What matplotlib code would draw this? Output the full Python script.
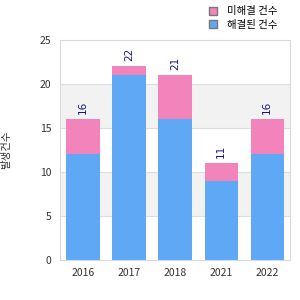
import numpy as np
import matplotlib.pyplot as plt
from matplotlib.patches import Patch

plt.rcParams['font.family'] = ['Noto Sans CJK KR', 'DejaVu Sans']

# Data
years = ['2016', '2017', '2018', '2021', '2022']
base_vals = [12, 21, 16, 9, 12]
top_vals = [4, 1, 5, 2, 4]
totals = [b + t for b, t in zip(base_vals, top_vals)]
series_names = ['미해결 건수', '해결된 건수']
y_label = '발생건수'

blue = '#5fa8f6'
pink = '#f383bb'

fig = plt.figure(figsize=(3, 3), dpi=100)
ax = fig.add_axes([0.2, 0.133, 0.767, 0.734])

x = np.arange(len(years))
ax.set_xlim(-0.5, len(years) - 0.5)
ax.set_ylim(0, 25)

# alternating bands
for lo in (5, 15):
    ax.axhspan(lo, lo + 5, color='#f2f2f2', zorder=0, lw=0)
for yv in (5, 10, 15, 20):
    ax.axhline(yv, color='#dddddd', lw=0.8, zorder=0.5)

ax.bar(x, base_vals, width=0.72, color=blue, zorder=2)
ax.bar(x, top_vals, width=0.72, bottom=base_vals, color=pink, zorder=2)

for xi, t in zip(x, totals):
    ax.text(xi, t + 0.6, str(t), rotation=90, ha='center', va='bottom',
            fontsize=7.5, color='#14148a', family='DejaVu Sans')

ax.set_xticks(x)
ax.set_xticklabels(years)
ax.set_yticks([0, 5, 10, 15, 20, 25])
ax.tick_params(length=0, labelsize=7.5, colors='#333333', pad=6)
for s in ax.spines.values():
    s.set_color('#d9d9d9')

fig.text(0.005, 0.5, y_label, rotation=90, ha='left', va='center', fontsize=7.5, color='#333333')

handles = [Patch(facecolor=pink, edgecolor='#777777', lw=1),
           Patch(facecolor=blue, edgecolor='#777777', lw=1)]
fig.legend(handles, series_names, loc='upper left', bbox_to_anchor=(0.665, 1.01),
           frameon=False, fontsize=7.5, handlelength=0.8, handleheight=0.8,
           handletextpad=0.9, labelspacing=0.35)

fig.savefig('out.png', dpi=100)
